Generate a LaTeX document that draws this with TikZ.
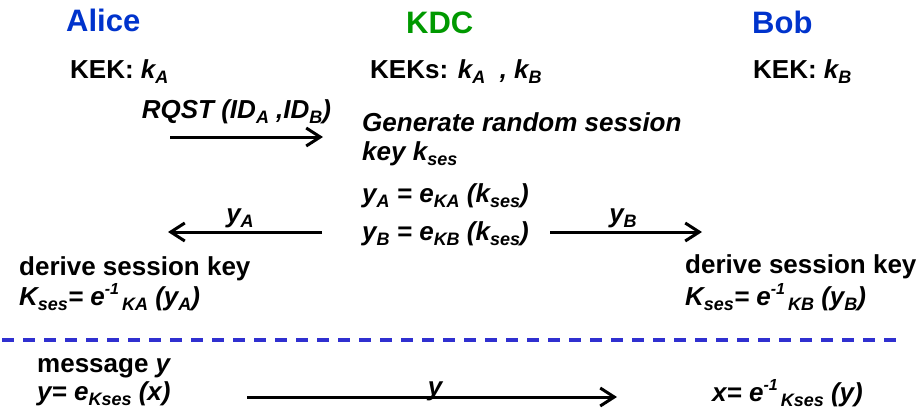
\documentclass[tikz,border=0pt]{standalone}
\usepackage{fontspec}
\setmainfont{Liberation Sans}
\usetikzlibrary{arrows.meta}
\definecolor{partyblue}{HTML}{0033CC}
\definecolor{kdcgreen}{HTML}{009900}
\definecolor{sepblue}{HTML}{3030D0}
\newcommand{\lowtxt}[1]{\raisebox{-0.22em}{\fontsize{18}{20}\selectfont #1}}
\newcommand{\uptxt}[1]{\raisebox{0.42em}{\fontsize{16}{18}\selectfont #1}}

\begin{document}
\begin{tikzpicture}[x=1pt, y=-1pt,
    party/.style={anchor=base west, inner sep=0pt, text=partyblue, font=\bfseries\fontsize{31}{36}\selectfont},
    txt/.style={anchor=base west, inner sep=0pt, font=\bfseries\fontsize{26}{30}\selectfont},
    itxt/.style={txt, font=\bfseries\itshape\fontsize{26}{30}\selectfont},
    lbl/.style={anchor=base, inner sep=0pt, font=\bfseries\itshape\fontsize{26}{30}\selectfont},
    arrow/.style={-{Straight Barb[length=14pt,width=18pt]}, line width=3pt},
    sepline/.style={sepblue, line width=3.2pt, dash pattern=on 12pt off 9pt}]

    \useasboundingbox (0,0) rectangle (922,416);

    \node[party] (alice) at (66,31) {Alice};
    \node[party, text=kdcgreen] (kdc) at (406,33) {KDC};
    \node[party] (bob) at (752,33) {Bob};

    \node[txt] (kekA) at (70,78) {KEK: \textit{k\lowtxt{A}}};
    \node[txt] (keks) at (370,78) {KEKs: \textit{k\lowtxt{A}\ \ , k\lowtxt{B}}};
    \node[txt] (kekB) at (753,78) {KEK: \textit{k\lowtxt{B}}};

    \node[itxt] (gen) at (362,131) {Generate random session};
    \node[itxt] (gen2) at (362,160) {key k\lowtxt{ses}};
    \node[itxt] (encA) at (362,202) {y\lowtxt{A} = e\lowtxt{KA} (k\lowtxt{ses})};
    \node[itxt] (encB) at (362,240) {y\lowtxt{B} = e\lowtxt{KB} (k\lowtxt{ses})};

    \node[txt] (derA) at (19,275) {derive session key};
    \node[itxt] (decA) at (19,305) {K\lowtxt{ses}= e\uptxt{-1}\lowtxt{\,KA} (y\lowtxt{A})};
    \node[txt] (derB) at (685,273) {derive session key};
    \node[itxt] (decB) at (685,305) {K\lowtxt{ses}= e\uptxt{-1}\lowtxt{\,KB} (y\lowtxt{B})};

    \node[txt] (msg) at (37,372) {message \textit{y}};
    \node[itxt] (encx) at (37,400) {y= e\lowtxt{Kses} (x)};
    \node[itxt] (decx) at (712,401) {x= e\uptxt{-1}\lowtxt{\,Kses} (y)};

    \coordinate (rq-s) at (170,137);
    \coordinate (rq-e) at (323,137);
    \coordinate (ya-s) at (322,232);
    \coordinate (ya-e) at (168,232);
    \coordinate (yb-s) at (550,232);
    \coordinate (yb-e) at (702,232);
    \coordinate (sep-l) at (2,340);
    \coordinate (sep-r) at (897,340);
    \coordinate (y-s) at (247,397);
    \coordinate (y-e) at (617,397);

    \draw[arrow] (rq-s) -- node[lbl, yshift=19pt, xshift=-10pt] (rqst) {RQST (ID\lowtxt{A} ,ID\lowtxt{B})} (rq-e);
    \draw[arrow] (ya-s) -- node[lbl, yshift=10pt, xshift=-5pt] (lblA) {y\lowtxt{A}} (ya-e);
    \draw[arrow] (yb-s) -- node[lbl, yshift=10pt, xshift=-3pt] (lblB) {y\lowtxt{B}} (yb-e);
    \draw[sepline] (sep-l) -- (sep-r);
    \draw[arrow] (y-s) -- node[lbl, yshift=2pt, xshift=3pt] (lbly) {y} (y-e);

\end{tikzpicture}
\end{document}
